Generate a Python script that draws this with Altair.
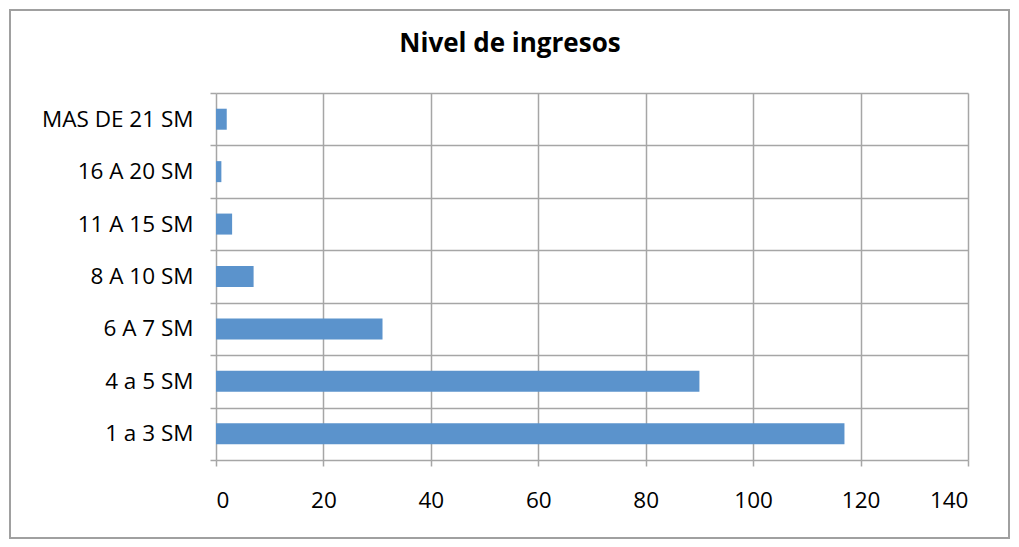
import altair as alt
import pandas as pd

categories = ["MAS DE 21 SM", "16 A 20 SM", "11 A 15 SM", "8 A 10 SM", "6 A 7 SM", "4 a 5 SM", "1 a 3 SM"]
values = [2, 1, 3, 7, 31, 90, 117]
x_ticks = [0, 20, 40, 60, 80, 100, 120, 140]
title_text = "Nivel de ingresos"

df = pd.DataFrame({"cat": categories, "val": values})

FONT = "Open Sans"
GRID = "#a6a6a6"

bars = alt.Chart(df).mark_bar(color="#5B93CC", height=21).encode(
    x=alt.X("val:Q",
            scale=alt.Scale(domain=[0, 140], nice=False),
            axis=alt.Axis(values=x_ticks, title=None, grid=True, gridColor=GRID, gridWidth=1.5,
                          domain=False, ticks=True, tickColor=GRID, tickWidth=1.5, tickSize=6,
                          labelFont=FONT, labelFontSize=22.5, labelColor="#000", labelPadding=23)),
    y=alt.Y("cat:N", sort=categories,
            scale=alt.Scale(paddingInner=0, paddingOuter=0),
            axis=alt.Axis(title=None, grid=True, gridColor=GRID, gridWidth=1.5, tickBand="extent",
                          domain=False, ticks=True, tickColor=GRID, tickWidth=1.5, tickSize=6,
                          labelFont=FONT, labelFontSize=22.5, labelColor="#000", labelPadding=17)),
)

title = alt.Chart(pd.DataFrame({"t": [title_text]})).mark_text(
    font=FONT, fontSize=26, fontWeight="bold", color="#000"
).encode(text="t:N", x=alt.value(294), y=alt.value(-49))

border = alt.Chart(pd.DataFrame({"t": [0]})).mark_rect(
    fill=None, stroke="#a0a0a0", strokeWidth=2
).encode(x=alt.value(-206), x2=alt.value(793), y=alt.value(-83), y2=alt.value(445))

chart = alt.layer(border, bars, title).properties(
    width=752, height=367,
    autosize=alt.AutoSizeParams(type="none"),
    padding={"left": 208, "top": 85, "right": 43, "bottom": 79},
).configure_view(stroke=None)

chart.save("out.html", embed_options={"renderer": "svg", "actions": False})
